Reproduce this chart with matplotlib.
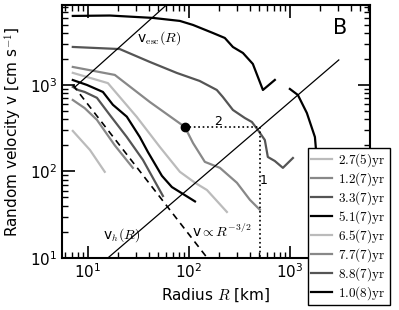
import numpy as np
import matplotlib
matplotlib.use('Agg')
import matplotlib.pyplot as plt

plt.rcParams['mathtext.fontset'] = 'cm'
plt.rcParams['font.family'] = 'DejaVu Sans'

# curves: radius [km], velocity [cm/s]
labels = ['$2.7(5)\\mathrm{yr}$', '$1.2(7)\\mathrm{yr}$', '$3.3(7)\\mathrm{yr}$', '$5.1(7)\\mathrm{yr}$',
          '$6.5(7)\\mathrm{yr}$', '$7.7(7)\\mathrm{yr}$', '$8.8(7)\\mathrm{yr}$', '$1.0(8)\\mathrm{yr}$']
colores = ['#bbbbbb', '#888888', '#555555', '#000000',
           '#bbbbbb', '#888888', '#555555', '#000000']

R1 = [7.1, 10.5, 14.7]
v1 = [294, 177, 99]
R2 = [7.1, 9.3, 12.3, 18.5, 27.9]
v2 = [670, 540, 395, 200, 110]
R3 = [7.1, 8.0, 9.3, 12.3, 16.5, 24.3, 35.1, 55.4]
v3 = [950, 875, 830, 710, 450, 250, 136, 52]
R4 = [7.1, 9.8, 14.1, 17.7, 24.3, 32.7, 39.3, 54.1, 67.9, 115]
v4 = [1140, 1000, 830, 590, 430, 250, 168, 89, 66, 45]
R5 = [7.1, 15.8, 30.5, 51.6, 81.5, 115, 151, 238]
v5 = [1380, 1050, 427, 192, 99, 74, 61, 34]
R6 = [7.1, 18.5, 41.1, 91.2, 110, 144, 203, 299, 402, 505]
v6 = [1615, 1306, 635, 327, 213, 129, 110, 74, 47, 36]
R7 = [7.1, 20.7, 41.1, 76, 128, 189, 217, 273, 358, 421, 482, 565, 605, 710, 853, 1072]
v7 = [2750, 2600, 1845, 1377, 1112, 875, 726, 514, 415, 373, 302, 231, 147, 132, 110, 143]
R8 = [7.1, 16.5, 44.0, 81.5, 110, 173, 227, 273, 343, 430, 541, 710, np.nan,
      1000, 1200, 1473, 1770, 1850, 1982]
v8 = [6280, 6350, 5960, 5500, 4940, 3990, 3494, 2748, 2344, 1750, 875, 1143, np.nan,
      899, 766, 474, 250, 136, 66]

radios = [R1, R2, R3, R4, R5, R6, R7, R8]
velocidades = [v1, v2, v3, v4, v5, v6, v7, v8]

# lineas de referencia
vesc_R = [7.4, 62]
vesc_v = [940, 8700]
vh_R = [15.8, 3050]
vh_v = [10, 1946]
pend_R = [7.1, 152]
pend_v = [1000, 10]
punto_R = [91.2]
punto_v = [327]
guia_R = [91.2, 505, 505]
guia_v = [327, 327, 10]

fig = plt.figure(figsize=(3.99, 3.10), dpi=100)
ax = fig.add_axes([0.155, 0.168, 0.772, 0.816])

for R, v, c, lab in zip(radios, velocidades, colores, labels):
    ax.plot(R, v, color=c, lw=1.6, label=lab)

ax.plot(vesc_R, vesc_v, color='k', lw=0.9)
ax.plot(vh_R, vh_v, color='k', lw=0.9)
ax.plot(pend_R, pend_v, color='k', lw=1.2, ls=(0, (4, 3)))
ax.plot(guia_R, guia_v, color='k', lw=1.2, ls=':')
ax.plot(punto_R, punto_v, 'o', color='k', ms=6)

ax.set_xscale('log')
ax.set_yscale('log')
ax.set_xlim(5.53, 6194)
ax.set_ylim(10, 8413)

ax.text(30.5, 3490, r'v$_{\rm esc}(R)$', fontsize=10, ha='left', va='center')
ax.text(14.1, 18.5, r'v$_h(R)$', fontsize=10, ha='left', va='center')
ax.text(107, 20, r'v$\propto R^{-3/2}$', fontsize=10, ha='left', va='center')
ax.text(194, 373, '2', fontsize=9, ha='center', va='center')
ax.text(553, 77.6, '1', fontsize=9, ha='center', va='center')
ax.text(0.903, 0.909, 'B', fontsize=15, ha='center', va='center', transform=ax.transAxes)

ax.set_xlabel(r'Radius $R$ [km]', fontsize=11)
ax.set_ylabel(r'Random velocity v [cm s$^{-1}$]', fontsize=11)

ax.tick_params(which='both', direction='in', top=True, right=True, labelsize=11)
ax.tick_params(which='major', length=9, width=1.2)
ax.tick_params(which='minor', length=4.5, width=1)
for s in ax.spines.values():
    s.set_linewidth(1.5)

leg = ax.legend(loc='lower left', bbox_to_anchor=(0.772, 0.016, 0.206, 0.381),
                bbox_transform=fig.transFigure, mode='expand', fancybox=False,
                framealpha=1, edgecolor='k', fontsize=9.5, handlelength=1.6,
                borderpad=0.2, labelspacing=0.1, handletextpad=0.5, borderaxespad=0)
leg.get_frame().set_linewidth(1.0)
leg.set_zorder(10)

plt.savefig('out.png', dpi=100)
